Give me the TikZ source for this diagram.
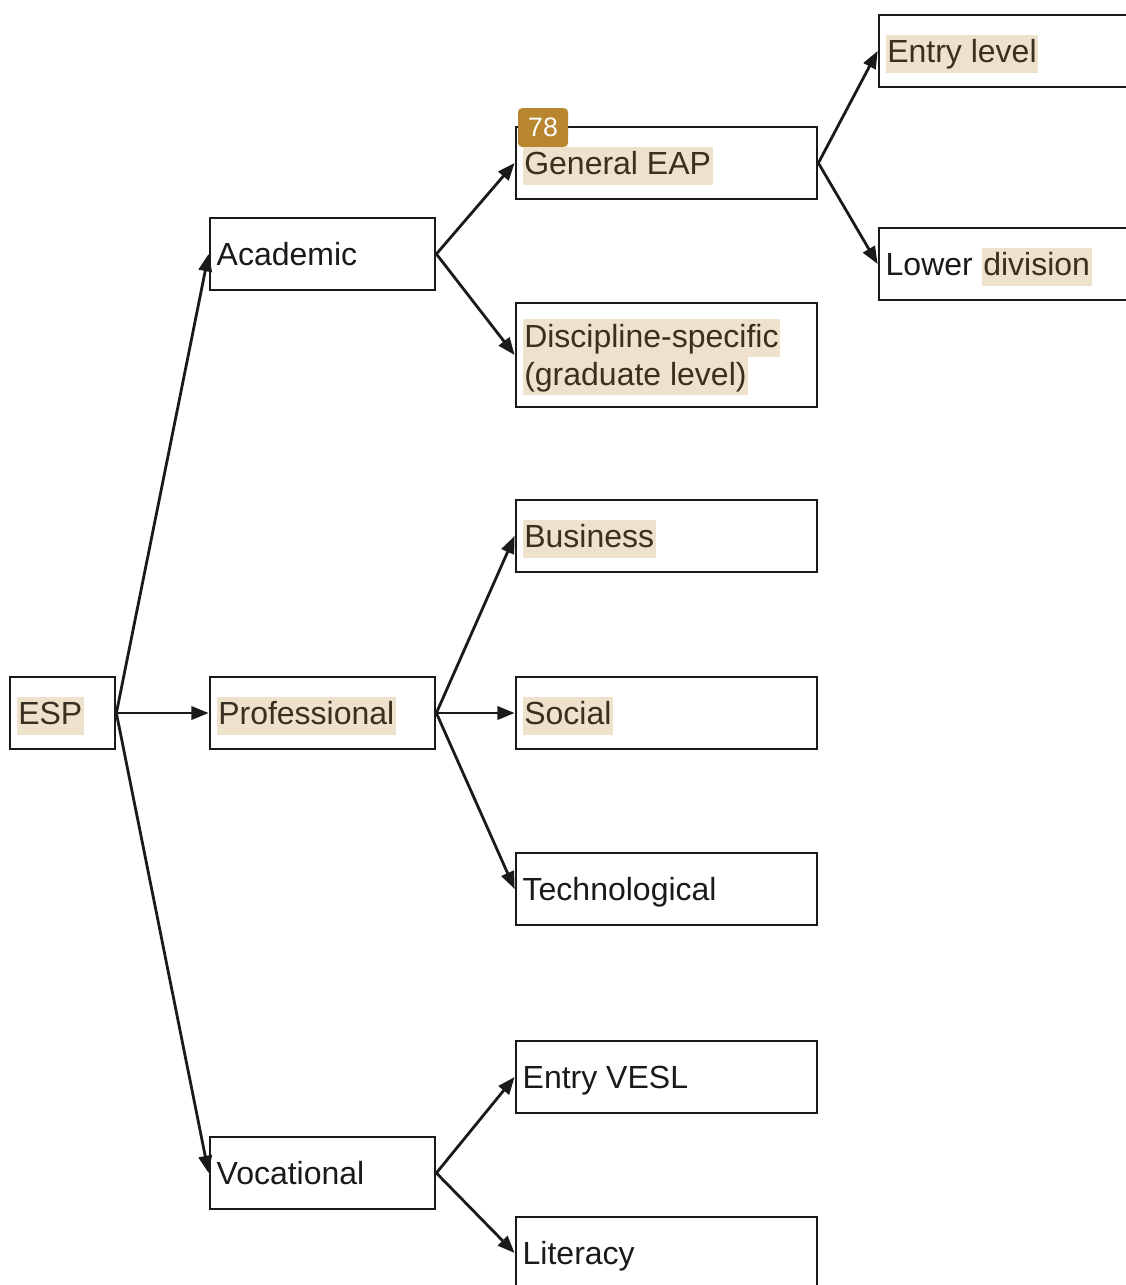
\documentclass[tikz,border=0pt]{standalone}
\usepackage{fontspec}
\setmainfont{Liberation Sans}
\usetikzlibrary{arrows.meta}
\definecolor{hlbeige}{HTML}{EEE2CC}
\definecolor{hltext}{HTML}{3A3020}
\definecolor{badgegold}{HTML}{B8862F}
\definecolor{inkgray}{HTML}{1A1A1A}
% highlighted word: the band does not change the size of its box
\newcommand{\hlt}[1]{\smash{{\setlength{\fboxsep}{1.2pt}\colorbox{hlbeige}{\color{hltext}\rule[-6.5pt]{0pt}{26pt}#1}}}}
\begin{document}
\begin{tikzpicture}[x=0.75pt,y=-0.75pt,
  bx/.style={draw=inkgray, line width=2.05pt, fill=white, minimum height=54pt,
    inner xsep=5pt, inner ysep=0pt, align=flush left, text width=#1,
    text height=17pt, text depth=0pt,
    font=\fontsize{24}{28.5}\selectfont, text=inkgray},
  link/.style={line width=2.1pt, draw=inkgray, -{Triangle[length=13pt,width=10pt]}}]
\useasboundingbox (0,0) rectangle (1126,1285);
\clip (0,0) rectangle (1126,1285);
% tree nodes
\node[bx=68.75pt] (esp) at (62.5,713) {\hlt{ESP}};
\node[bx=158.75pt] (acad) at (322.5,254) {Academic};
\node[bx=158.75pt] (prof) at (322.5,713) {\hlt{Professional}};
\node[bx=158.75pt] (voc) at (322.5,1173) {Vocational};
\node[bx=215.75pt] (geap) at (666.5,163) {\hlt{General EAP}};
\node[bx=215.75pt, minimum height=78pt, text height=17pt, text depth=29pt] (disc) at (666.5,355)
  {\hlt{Discipline-specific}\\\hlt{(graduate level)}};
\node[bx=215.75pt] (bus) at (666.5,536) {\hlt{Business}};
\node[bx=215.75pt] (soc) at (666.5,713) {\hlt{Social}};
\node[bx=215.75pt] (tech) at (666.5,889) {Technological};
\node[bx=215.75pt] (vesl) at (666.5,1077) {Entry VESL};
\node[bx=215.75pt] (lit) at (666.5,1253) {Literacy};
\node[bx=215.75pt] (entry) at (1029.5,51) {\hlt{Entry level}};
\node[bx=215.75pt] (lower) at (1029.5,264) {Lower \hlt{division}};
% page badge
\node[fill=badgegold, rounded corners=3pt, minimum width=37.5pt, minimum height=29pt,
  inner sep=0pt, text=white, font=\fontsize{20}{24}\selectfont] (badge) at (543,127.5) {78};
% connectors
\draw[link] (esp.east) -- (acad.west);
\draw[link] (esp.east) -- (prof.west);
\draw[link] (esp.east) -- (voc.west);
\draw[link] (acad.east) -- (geap.west);
\draw[link] (acad.east) -- (disc.west);
\draw[link] (prof.east) -- (bus.west);
\draw[link] (prof.east) -- (soc.west);
\draw[link] (prof.east) -- (tech.west);
\draw[link] (voc.east) -- (vesl.west);
\draw[link] (voc.east) -- (lit.west);
\draw[link] (geap.east) -- (entry.west);
\draw[link] (geap.east) -- (lower.west);
\end{tikzpicture}
\end{document}
